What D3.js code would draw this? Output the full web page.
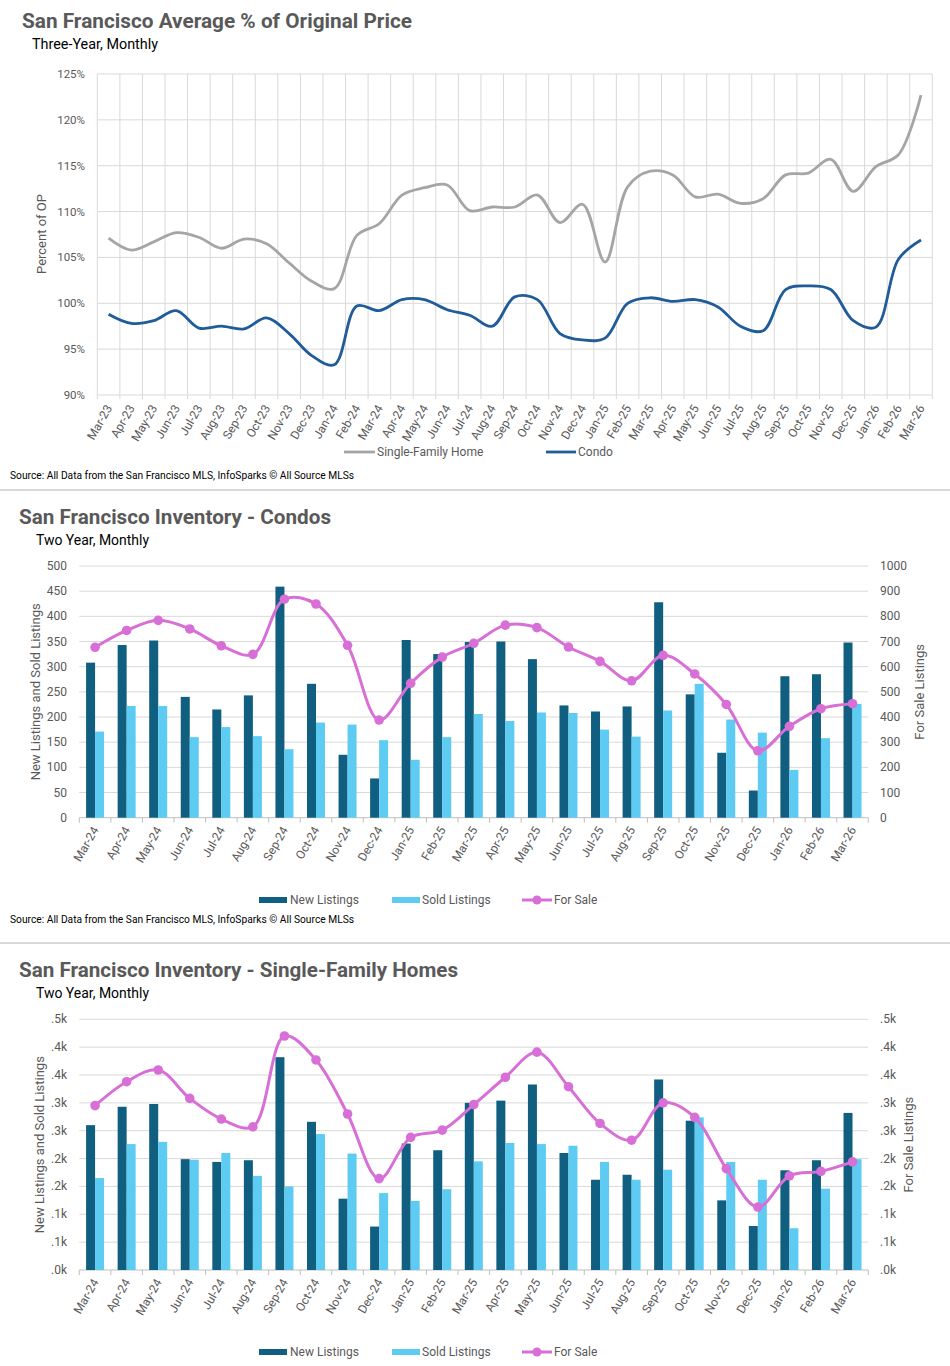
<!DOCTYPE html>
<html><head><meta charset="utf-8">
<script src="https://cdn.jsdelivr.net/npm/d3@7"></script>
<style>
body{margin:0;background:#fff}
text{font-family:Roboto,"Noto Sans",sans-serif}
</style>
</head><body>
<svg id="c" width="950" height="1366"></svg>
<script>
// ---------- DATA ----------
const months3 = ["Mar-23","Apr-23","May-23","Jun-23","Jul-23","Aug-23","Sep-23","Oct-23","Nov-23","Dec-23","Jan-24","Feb-24","Mar-24","Apr-24","May-24","Jun-24","Jul-24","Aug-24","Sep-24","Oct-24","Nov-24","Dec-24","Jan-25","Feb-25","Mar-25","Apr-25","May-25","Jun-25","Jul-25","Aug-25","Sep-25","Oct-25","Nov-25","Dec-25","Jan-26","Feb-26","Mar-26"];
const sfhPctOP = [107.1,105.8,106.7,107.7,107.2,106.0,107.0,106.5,104.4,102.4,101.6,107.4,108.7,111.8,112.6,112.9,110.1,110.5,110.5,111.8,108.8,110.8,104.5,112.7,114.4,114.0,111.6,111.9,110.9,111.4,114.0,114.2,115.7,112.2,114.9,116.2,122.7];
const condoPctOP = [98.8,97.8,98.1,99.2,97.3,97.5,97.2,98.4,96.7,94.3,93.3,99.7,99.2,100.4,100.4,99.3,98.7,97.5,100.7,100.4,96.7,96.0,96.2,100.0,100.6,100.2,100.4,99.6,97.5,97.0,101.5,101.9,101.5,98.1,97.4,104.8,106.9];
const pctTicks = [90,95,100,105,110,115,120,125];

const months2 = ["Mar-24","Apr-24","May-24","Jun-24","Jul-24","Aug-24","Sep-24","Oct-24","Nov-24","Dec-24","Jan-25","Feb-25","Mar-25","Apr-25","May-25","Jun-25","Jul-25","Aug-25","Sep-25","Oct-25","Nov-25","Dec-25","Jan-26","Feb-26","Mar-26"];
const condoNew  = [308,343,352,240,215,243,459,266,125,78,353,325,349,350,315,223,211,221,428,245,129,54,281,285,348];
const condoSold = [171,222,222,160,180,162,136,189,185,154,115,160,206,192,209,208,175,161,213,266,195,169,95,158,226];
const condoForSale = [677,744,784,750,683,649,868,849,685,388,534,638,693,765,755,678,621,544,645,571,450,266,363,433,453];
const condoLeftTicks = [0,50,100,150,200,250,300,350,400,450,500];
const condoRightTicks = [0,100,200,300,400,500,600,700,800,900,1000];

const sfhNew  = [260,293,298,199,194,197,382,266,128,78,227,215,300,304,333,210,162,171,342,268,125,79,179,197,282];
const sfhSold = [165,226,230,198,210,169,150,244,209,138,124,145,195,228,226,223,194,162,180,274,194,162,75,146,199];
const sfhForSale = [295,338,359,308,271,257,420,377,280,164,238,251,297,346,391,329,263,233,300,274,182,113,169,177,194];
const sfhTicks = [0,50,100,150,200,250,300,350,400,450];

// ---------- STYLE ----------
const C = {grid:"#d9d9d9", axis:"#bfbfbf", tick:"#595959", title:"#595959",
  sfhLine:"#a5a5a5", condoLine:"#1f5c99", dark:"#105e80", light:"#5ecbf3", pink:"#d86fd6"};
const svg = d3.select("#c");

function txt(g, x, y, s, size, opts={}) {
  const t = g.append("text").attr("x", x).attr("y", y).text(s)
    .attr("font-size", size).attr("fill", opts.fill || "#000");
  if (opts.weight) t.attr("font-weight", opts.weight);
  if (opts.anchor) t.attr("text-anchor", opts.anchor);
  if (opts.len) t.attr("textLength", opts.len).attr("lengthAdjust", "spacingAndGlyphs");
  return t;
}

// ---------- CHART 1 ----------
(function(){
  const g = svg.append("g");
  txt(g, 22, 28, "San Francisco Average % of Original Price", 21, {weight:"bold", fill:C.title, len:390});
  txt(g, 32, 49, "Three-Year, Monthly", 14, {len:126});
  const x = d3.scaleBand().domain(months3).range([97.3, 932.3]);
  const y = d3.scaleLinear().domain([90,125]).range([395,74]);
  const bw = x.bandwidth();
  g.selectAll(".hg").data(pctTicks).join("line")
    .attr("x1", 97.3).attr("x2", 932.3).attr("y1", d=>y(d)).attr("y2", d=>y(d))
    .attr("stroke", C.grid).attr("stroke-width", 1);
  const vx = months3.map(m=>x(m)).concat([x(months3[months3.length-1])+bw]);
  g.selectAll(".vg").data(vx).join("line")
    .attr("x1", d=>d).attr("x2", d=>d).attr("y1", 74).attr("y2", 399)
    .attr("stroke", C.grid).attr("stroke-width", 1);
  g.selectAll(".yl").data(pctTicks).join("text")
    .attr("x", 85).attr("y", d=>y(d)+4).attr("text-anchor","end")
    .attr("font-size", 11.5).attr("fill", C.tick).text(d=>d+"%");
  g.append("text").attr("transform","translate(46,234) rotate(-90)")
    .attr("text-anchor","middle").attr("font-size",13).attr("fill",C.tick).text("Percent of OP");
  g.selectAll(".xl").data(months3).join("text")
    .attr("transform", d=>`translate(${x(d)+bw/2+4},408) rotate(-60)`)
    .attr("text-anchor","end").attr("font-size",12).attr("fill",C.tick).text(d=>d);
  const line = vals => d3.line().curve(d3.curveCatmullRom.alpha(0.5))
    .x((d,i)=>x(months3[i])+bw/2).y(d=>y(d))(vals);
  g.append("path").attr("d", line(sfhPctOP)).attr("fill","none").attr("stroke",C.sfhLine).attr("stroke-width",2.8);
  g.append("path").attr("d", line(condoPctOP)).attr("fill","none").attr("stroke",C.condoLine).attr("stroke-width",2.8);
  g.append("line").attr("x1",344).attr("x2",375).attr("y1",452).attr("y2",452).attr("stroke",C.sfhLine).attr("stroke-width",2.8);
  txt(g, 377, 456, "Single-Family Home", 12, {fill:C.tick});
  g.append("line").attr("x1",546).attr("x2",576).attr("y1",452).attr("y2",452).attr("stroke",C.condoLine).attr("stroke-width",2.8);
  txt(g, 578, 456, "Condo", 12, {fill:C.tick});
  txt(g, 10, 479, "Source: All Data from the San Francisco MLS, InfoSparks © All Source MLSs", 10.5, {len:344});
  g.append("line").attr("x1",0).attr("x2",950).attr("y1",490).attr("y2",490).attr("stroke","#d9d9d9").attr("stroke-width",2);
})();

// ---------- INVENTORY CHARTS ----------
function inventory(opt){
  const g = svg.append("g");
  txt(g, 19, opt.top+18, opt.title, 21, {weight:"bold", fill:C.title, len:opt.titleLen});
  txt(g, 36, opt.top+39, "Two Year, Monthly", 14, {len:113});
  const x = d3.scaleBand().domain(months2).range([79.3, 868.3]);
  const bw = x.bandwidth();
  const yl = d3.scaleLinear().domain(opt.leftDomain).range([opt.bottom, opt.plotTop]);
  const yr = d3.scaleLinear().domain(opt.rightDomain).range([opt.bottom, opt.plotTop]);
  g.selectAll(".hg").data(opt.leftTicks.slice(1)).join("line")
    .attr("x1",79.3).attr("x2",868.3).attr("y1",d=>yl(d)).attr("y2",d=>yl(d))
    .attr("stroke",C.grid).attr("stroke-width",1);
  g.append("line").attr("x1",79.3).attr("x2",868.3).attr("y1",opt.bottom).attr("y2",opt.bottom)
    .attr("stroke",C.axis).attr("stroke-width",1);
  const tx = months2.map(m=>x(m)).concat([868.3]);
  g.selectAll(".tk").data(tx).join("line")
    .attr("x1",d=>d).attr("x2",d=>d).attr("y1",opt.bottom).attr("y2",opt.bottom+5)
    .attr("stroke",C.axis).attr("stroke-width",1);
  g.selectAll(".bn").data(opt.newVals).join("rect")
    .attr("x",(d,i)=>x(months2[i])+bw/2-9).attr("width",9)
    .attr("y",d=>yl(d)).attr("height",d=>opt.bottom-yl(d)).attr("fill",C.dark);
  g.selectAll(".bs").data(opt.soldVals).join("rect")
    .attr("x",(d,i)=>x(months2[i])+bw/2).attr("width",9)
    .attr("y",d=>yl(d)).attr("height",d=>opt.bottom-yl(d)).attr("fill",C.light);
  const ln = d3.line().curve(d3.curveCatmullRom.alpha(0.5))
    .x((d,i)=>x(months2[i])+bw/2).y(d=>yr(d));
  g.append("path").attr("d",ln(opt.saleVals)).attr("fill","none").attr("stroke",C.pink).attr("stroke-width",3);
  g.selectAll(".dt").data(opt.saleVals).join("circle")
    .attr("cx",(d,i)=>x(months2[i])+bw/2).attr("cy",d=>yr(d)).attr("r",4.8).attr("fill",C.pink);
  g.selectAll(".yl").data(opt.leftTicks).join("text")
    .attr("x",67).attr("y",d=>yl(d)+4).attr("text-anchor","end")
    .attr("font-size",12).attr("fill",C.tick).text(opt.fmt);
  g.selectAll(".yr").data(opt.rightTicks).join("text")
    .attr("x",880).attr("y",d=>yr(d)+4).attr("text-anchor","start")
    .attr("font-size",12).attr("fill",C.tick).text(opt.fmt);
  const mid = (opt.bottom+opt.plotTop)/2;
  g.append("text").attr("transform",`translate(${opt.leftTitleX},${mid}) rotate(-90)`)
    .attr("text-anchor","middle").attr("font-size",13).attr("fill",C.tick).text("New Listings and Sold Listings");
  g.append("text").attr("transform",`translate(${opt.rightTitleX},${mid}) rotate(-90)`)
    .attr("text-anchor","middle").attr("font-size",13).attr("fill",C.tick).text("For Sale Listings");
  g.selectAll(".xl").data(months2).join("text")
    .attr("transform",d=>`translate(${x(d)+bw/2+4},${opt.bottom+12}) rotate(-60)`)
    .attr("text-anchor","end").attr("font-size",12).attr("fill",C.tick).text(d=>d);
  const ly = opt.legendY;
  g.append("rect").attr("x",259).attr("y",ly-3).attr("width",28).attr("height",6).attr("fill",C.dark);
  txt(g, 290, ly+4, "New Listings", 12, {fill:C.tick});
  g.append("rect").attr("x",392).attr("y",ly-3).attr("width",28).attr("height",6).attr("fill",C.light);
  txt(g, 422, ly+4, "Sold Listings", 12, {fill:C.tick});
  g.append("line").attr("x1",522).attr("x2",552).attr("y1",ly).attr("y2",ly).attr("stroke",C.pink).attr("stroke-width",3);
  g.append("circle").attr("cx",537).attr("cy",ly).attr("r",4.5).attr("fill",C.pink);
  txt(g, 554, ly+4, "For Sale", 12, {fill:C.tick});
  if (opt.source) {
    txt(g, 10, ly+23, "Source: All Data from the San Francisco MLS, InfoSparks © All Source MLSs", 10.5, {len:344});
    g.append("line").attr("x1",0).attr("x2",950).attr("y1",opt.sepY).attr("y2",opt.sepY).attr("stroke","#d9d9d9").attr("stroke-width",2);
  }
}

inventory({top:506, title:"San Francisco Inventory - Condos", titleLen:312,
  plotTop:566, bottom:817.7, leftDomain:[0,500], rightDomain:[0,1000],
  leftTicks:condoLeftTicks, rightTicks:condoRightTicks, fmt:d=>d,
  newVals:condoNew, soldVals:condoSold, saleVals:condoForSale,
  leftTitleX:40, rightTitleX:924, legendY:900, source:true, sepY:943});

const kfmt = d => "." + Math.round(d/100) + "k";
inventory({top:959, title:"San Francisco Inventory - Single-Family Homes", titleLen:439,
  plotTop:1019.3, bottom:1270, leftDomain:[0,450], rightDomain:[0,450],
  leftTicks:sfhTicks, rightTicks:sfhTicks, fmt:kfmt,
  newVals:sfhNew, soldVals:sfhSold, saleVals:sfhForSale,
  leftTitleX:44, rightTitleX:913, legendY:1352, source:false});
</script>
</body></html>
